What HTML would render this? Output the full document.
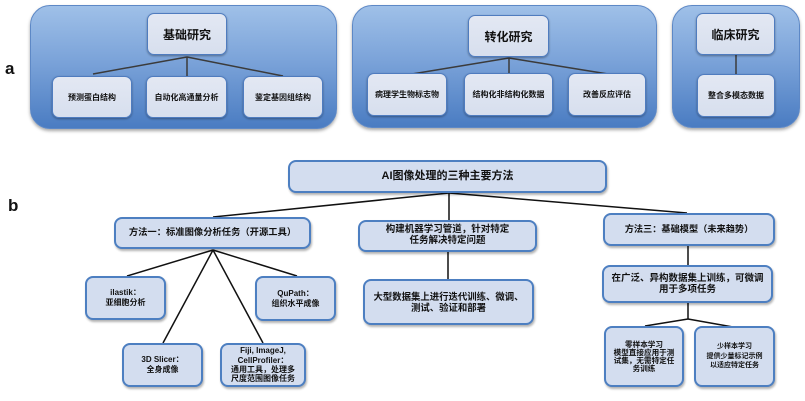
<!DOCTYPE html>
<html><head><meta charset="utf-8">
<style>
html,body{margin:0;padding:0;background:#fff;}
body{width:805px;height:401px;position:relative;overflow:hidden;font-family:"Liberation Sans","Noto Sans CJK SC",sans-serif;}
.p{position:absolute;border-radius:20px;background:linear-gradient(#9fc0e8,#7ba3d9 45%,#4a7cc2);border:1px solid #5d88c6;box-sizing:border-box;box-shadow:0 2px 3px rgba(0,0,0,.35);z-index:1;}
.a{position:absolute;box-sizing:border-box;border-radius:7px;background:linear-gradient(#e3e8f3,#d7dfee);border:1px solid #4f7cbf;box-shadow:0 1px 2px rgba(0,0,0,.35);display:flex;align-items:center;justify-content:center;text-align:center;font-weight:bold;color:#111;font-size:8px;z-index:3;font-family:"Liberation Sans","Noto Sans CJK SC",sans-serif;}
.b{position:absolute;box-sizing:border-box;border-radius:8px;background:#d3ddef;border:2px solid #4d7fc1;box-shadow:1px 2px 2px rgba(0,0,0,.3);display:flex;align-items:center;justify-content:center;text-align:center;font-weight:bold;color:#111;font-size:8px;line-height:1.2;z-index:3;}
.t{font-size:12px;}
svg{position:absolute;left:0;top:0;z-index:2;}
.lab{position:absolute;font-weight:bold;font-size:17px;color:#111;}
</style></head><body>
<div class="lab" style="left:5px;top:59px;">a</div>
<div class="lab" style="left:8px;top:196px;">b</div>

<div class="p" style="left:30px;top:5px;width:307px;height:124px;"></div>
<div class="p" style="left:352px;top:5px;width:305px;height:123px;"></div>
<div class="p" style="left:672px;top:5px;width:128px;height:123px;"></div>

<svg width="805" height="401">
<g stroke="#3b3b3b" stroke-width="1.5" fill="none">
<line x1="187" y1="57" x2="93" y2="74"/>
<line x1="187" y1="57" x2="187" y2="76"/>
<line x1="187" y1="57" x2="283" y2="76"/>
<line x1="509" y1="58" x2="412" y2="74"/>
<line x1="509" y1="58" x2="509" y2="74"/>
<line x1="509" y1="58" x2="608" y2="74"/>
<line x1="736" y1="55" x2="736" y2="74"/>
</g>
<g stroke="#111" stroke-width="1.5" fill="none">
<line x1="449" y1="193" x2="213" y2="217"/>
<line x1="449" y1="193" x2="449" y2="220"/>
<line x1="449" y1="193" x2="687" y2="213"/>
<line x1="213" y1="250" x2="127" y2="276"/>
<line x1="213" y1="250" x2="297" y2="276"/>
<line x1="213" y1="250" x2="163" y2="343"/>
<line x1="213" y1="250" x2="263" y2="343"/>
<line x1="448" y1="252" x2="448" y2="279"/>
<line x1="688" y1="246" x2="688" y2="265"/>
<line x1="688" y1="303" x2="688" y2="319"/>
<line x1="688" y1="319" x2="645" y2="326"/>
<line x1="688" y1="319" x2="733" y2="327"/>
</g>
</svg>

<div class="a t" style="left:147px;top:13px;width:80px;height:42px;">基础研究</div>
<div class="a" style="left:52px;top:76px;width:80px;height:42px;">预测蛋白结构</div>
<div class="a" style="left:146px;top:76px;width:81px;height:42px;">自动化高通量分析</div>
<div class="a" style="left:243px;top:76px;width:80px;height:42px;">鉴定基因组结构</div>

<div class="a t" style="left:468px;top:15px;width:81px;height:42px;">转化研究</div>
<div class="a" style="left:367px;top:73px;width:80px;height:43px;">病理学生物标志物</div>
<div class="a" style="left:464px;top:73px;width:89px;height:43px;">结构化非结构化数据</div>
<div class="a" style="left:568px;top:73px;width:78px;height:43px;">改善反应评估</div>

<div class="a t" style="left:696px;top:13px;width:79px;height:42px;">临床研究</div>
<div class="a" style="left:697px;top:74px;width:78px;height:43px;">整合多模态数据</div>

<div class="b" style="left:288px;top:160px;width:319px;height:33px;font-size:11px;">AI图像处理的三种主要方法</div>
<div class="b" style="left:114px;top:217px;width:197px;height:32px;font-size:9.3px;">方法一：标准图像分析任务（开源工具）</div>
<div class="b" style="left:358px;top:220px;width:179px;height:32px;font-size:9.5px;line-height:1.15;">构建机器学习管道，针对特定<br>任务解决特定问题</div>
<div class="b" style="left:603px;top:213px;width:172px;height:33px;font-size:9.2px;">方法三：基础模型（未来趋势）</div>

<div class="b" style="left:85px;top:276px;width:81px;height:44px;">ilastik：<br>亚细胞分析</div>
<div class="b" style="left:255px;top:276px;width:81px;height:45px;">QuPath：<br>组织水平成像</div>
<div class="b" style="left:122px;top:343px;width:81px;height:44px;">3D Slicer：<br>全身成像</div>
<div class="b" style="left:220px;top:343px;width:86px;height:44px;line-height:9.4px;">Fiji, ImageJ,<br>CellProfiler：<br>通用工具，处理多<br>尺度范围图像任务</div>

<div class="b" style="left:363px;top:279px;width:171px;height:46px;font-size:9.4px;">大型数据集上进行迭代训练、微调、<br>测试、验证和部署</div>
<div class="b" style="left:602px;top:265px;width:171px;height:38px;font-size:9.5px;">在广泛、异构数据集上训练，可微调<br>用于多项任务</div>

<div class="b" style="left:604px;top:326px;width:80px;height:61px;font-size:7.6px;line-height:8px;">零样本学习<br>模型直接应用于测<br>试集，无需特定任<br>务训练</div>
<div class="b" style="left:694px;top:326px;width:81px;height:61px;font-size:7px;line-height:9.5px;">少样本学习<br>提供少量标记示例<br>以适应特定任务</div>
</body></html>
